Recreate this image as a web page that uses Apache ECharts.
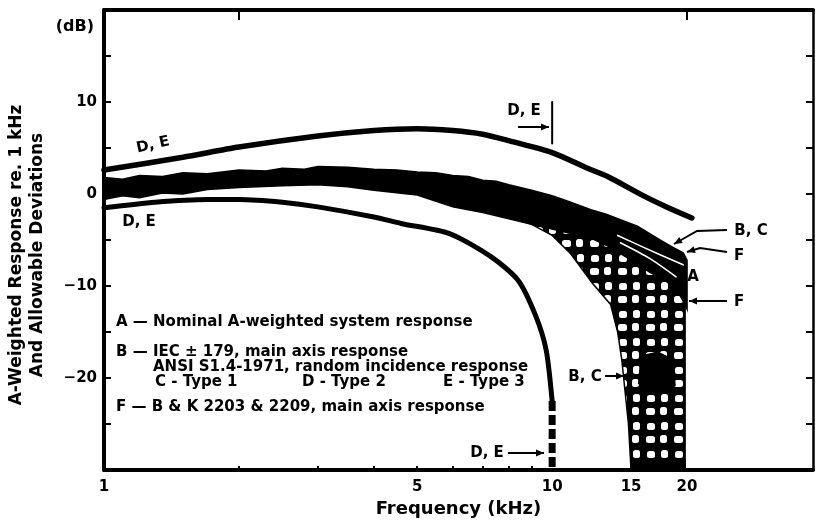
<!DOCTYPE html>
<html><head><meta charset="utf-8">
<script src="https://cdn.jsdelivr.net/npm/echarts@6/dist/echarts.min.js"></script>
<style>html,body{margin:0;padding:0;background:#fff}#c{width:819px;height:524px}</style>
</head><body><div id="c"></div>
<script>
// ---- data (frequency kHz, level dB) ----
const xTickLabels = [1, 5, 10, 15, 20];
const xMinorTicks = [2, 3, 4, 5, 6, 7, 8, 9];
const xTopTicks = [2, 20];
const yTickLabels = [10, 0, -10, -20];
const yTicks = [15, 10, 5, 0, -5, -10, -15, -20, -25];

const upperDE = [[1,2.6],[1.5,4.0],[2,5.1],[3,6.3],[4,6.9],[5,7.1],[6,6.9],[7,6.5],[8,5.8],[10,4.5],[12,2.8],[13.3,1.9],[16,-0.2],[18,-1.4],[20.5,-2.6]];
const lowerDE = [[1,-1.5],[1.3,-0.9],[1.7,-0.6],[2,-0.6],[2.5,-0.9],[3,-1.4],[4,-2.5],[4.6,-3.2],[5.9,-4.3],[7.3,-6.8],[8.4,-9.4],[9.2,-13.3],[9.7,-17],[10,-22.5]];
const lowerDEdash = [[10,-22.5],[10,-30]];
const markerDE = [[10,10],[10,5.5]];

const bandTop = [[1,1.8],[1.1,1.6],[1.2,2.0],[1.35,1.9],[1.5,2.3],[1.7,2.2],[2,2.6],[2.3,2.5],[2.5,2.8],[2.8,2.7],[3,3.0],[3.5,2.9],[4,2.7],[4.5,2.6],[5,2.4],[5.5,2.3],[6,2.0],[6.5,1.9],[7,1.5],[7.5,1.4],[8,1.0],[9,0.4],[10,-0.2],[11,-0.9],[12.2,-1.7],[13.2,-2.2],[14.2,-2.8],[15.5,-3.5],[17.4,-5.0],[18.6,-5.8],[19.6,-6.4],[20,-7.2]];
const bandBottom = [[1,-0.6],[1.1,-0.2],[1.2,-0.4],[1.35,0.1],[1.5,0.0],[1.7,0.5],[2,0.7],[2.5,0.9],[3,1.0],[3.5,0.8],[4,0.4],[5,-0.1],[6,-1.4],[7,-2.0],[8,-2.7],[9,-3.3],[10,-3.8],[11,-4.3],[12.2,-4.8],[13.5,-5.8],[15,-7.2],[16.5,-8.5],[18,-9.5],[19,-10.5],[19.8,-12],[20,-12.5]];
const checkerOutline = [[7.5,-2.0],[12,-3.5],[16,-6],[19.8,-8],[19.8,-30],[15.0,-30],[14.8,-25],[14.3,-18],[14.0,-15],[13.5,-12],[12.3,-9.7],[11,-6.5],[10,-4.5],[9,-3.3],[7.5,-2.0]];
const checkerBlob = [[15.8,-17.6],[17.2,-17.2],[18.6,-18.0],[18.8,-20.8],[17.0,-21.3],[15.6,-20.6]];
const checkerFoot = [[15.0,-28.9],[19.8,-28.9],[19.8,-30],[15.0,-30]];
const curveA = [[14.0,-4.5],[16,-5.8],[19.6,-7.7]];
const curveF = [[14.2,-5.3],[16.5,-7.0],[18.9,-9.0]];

// ---- styling ----
const FONT = '"DejaVu Sans", Verdana, sans-serif';
const chart = echarts.init(document.getElementById('c'), null, {renderer:'canvas'});

function makePattern(){
  const c = document.createElement('canvas'); c.width = 28; c.height = 28;
  const g = c.getContext('2d');
  g.fillStyle = '#000'; g.fillRect(0,0,28,28);
  g.fillStyle = '#fff';
  const blobs = [[3,3,8,7],[17,2,7,8],[2,16,9,7],[16,15,7,8]];
  blobs.forEach(b=>{ g.beginPath(); if (g.roundRect) g.roundRect(b[0],b[1],b[2],b[3],2.5); else g.rect(b[0],b[1],b[2],b[3]); g.fill(); });
  return c;
}
const pattern = {image: makePattern(), repeat: 'repeat'};

function polySeries(points, fill, z){
  return {type:'custom', coordinateSystem:'cartesian2d', xAxisIndex:0, yAxisIndex:0, z, silent:true, clip:true,
    data:[[1,0]],
    renderItem:(params, api)=>({type:'polygon', shape:{points: points.map(p=>api.coord(p)), smooth:0},
      style:{fill: fill, stroke:'#000', lineWidth:1.5}})};
}
function lineSeries(data, width, color, z, extra){
  return Object.assign({type:'line', data, xAxisIndex:0, yAxisIndex:0, symbol:'none', silent:true, z,
    smooth:0.25, lineStyle:{color, width, cap:'round'}}, extra||{});
}

const axisFont = {fontFamily: FONT, fontWeight:'bold', color:'#000'};

function text(t, x, y, size, align, rotation){
  return {type:'text', x, y, z:100, silent:true, rotation: rotation||0,
    style:{text:t, font:`bold ${size}px ${FONT}`, fill:'#000', align: align||'left', verticalAlign:'middle'}};
}
function arrow(pts){
  const n = pts.length, a = pts[n-2], b = pts[n-1];
  const ang = Math.atan2(b[1]-a[1], b[0]-a[0]);
  const L = 8, W = 3.5;
  const bx = b[0]-L*Math.cos(ang), by = b[1]-L*Math.sin(ang);
  const head = [b, [bx - W*Math.sin(ang), by + W*Math.cos(ang)], [bx + W*Math.sin(ang), by - W*Math.cos(ang)]];
  return [
    {type:'polyline', z:100, silent:true, shape:{points:pts}, style:{stroke:'#000', lineWidth:2, fill:null}},
    {type:'polygon', z:100, silent:true, shape:{points:head}, style:{fill:'#000'}}
  ];
}

const graphics = [
  text('(dB)', 94, 27, 16, 'right'),
  text('A-Weighted Response re. 1 kHz', 17, 255, 17, 'center', Math.PI/2),
  text('And Allowable Deviations', 38, 255, 17, 'center', Math.PI/2),
  text('A — Nominal A-weighted system response', 116, 322, 15),
  text('B — IEC ± 179, main axis response', 116, 352, 15),
  text('ANSI S1.4-1971, random incidence response', 153, 367, 15),
  text('C - Type 1', 155, 382, 15),
  text('D - Type 2', 302, 382, 15),
  text('E - Type 3', 443, 382, 15),
  text('F — B & K 2203 & 2209, main axis response', 116, 407, 15),
  text('D, E', 153, 145, 15, 'center', 0.22),
  text('D, E', 139, 222, 15, 'center'),
  text('D, E', 524, 111, 15, 'center'),
  text('D, E', 487, 453, 15, 'center'),
  text('B, C', 585, 377, 15, 'center'),
  text('B, C', 751, 231, 15, 'center'),
  text('F', 739, 256, 15, 'center'),
  text('A', 693, 277, 15, 'center'),
  text('F', 739, 302, 15, 'center'),
  ...arrow([[518,127],[549,127]]),
  ...arrow([[508,453],[544,453]]),
  ...arrow([[605,376],[624,376]]),
  ...arrow([[727,230],[697,231],[674,244]]),
  ...arrow([[727,252],[700,248],[687,252]]),
  ...arrow([[727,301],[689,301]])
];

const option = {
  animation:false,
  backgroundColor:'#fff',
  grid:{left:104, right:6, top:10, bottom:54},
  xAxis:[{
    type:'log', logBase:10, min:1, max:38.2, position:'bottom',
    axisLine:{onZero:false, lineStyle:{color:'#000', width:4}},
    axisTick:{show:true, inside:true, length:4, customValues:xMinorTicks, lineStyle:{color:'#000', width:2}},
    minorTick:{show:false}, splitLine:{show:false},
    axisLabel:{customValues:xTickLabels, formatter:v=>String(Math.round(v)), fontSize:15, margin:10, ...axisFont},
    name:'Frequency (kHz)', nameLocation:'middle', nameGap:27,
    nameTextStyle:{fontSize:18, ...axisFont}
  },{
    type:'log', logBase:10, min:1, max:38.2, position:'top',
    axisLine:{onZero:false, lineStyle:{color:'#000', width:4}},
    axisTick:{show:true, inside:true, length:10, customValues:xTopTicks, lineStyle:{color:'#000', width:2}},
    axisLabel:{show:false}, splitLine:{show:false}, minorTick:{show:false}
  }],
  yAxis:[{
    type:'value', min:-30, max:20, position:'left',
    axisLine:{show:true, onZero:false, lineStyle:{color:'#000', width:4}},
    axisTick:{show:true, inside:true, length:7, customValues:yTicks, lineStyle:{color:'#000', width:2}},
    axisLabel:{customValues:yTickLabels, formatter:v=>String(v).replace('-', '−'), fontSize:15, margin:7, ...axisFont},
    splitLine:{show:false}
  },{
    type:'value', min:-30, max:20, position:'right',
    axisLine:{show:true, onZero:false, lineStyle:{color:'#000', width:2.5}},
    axisTick:{show:true, inside:true, length:7, customValues:yTicks, lineStyle:{color:'#000', width:2}},
    axisLabel:{show:false}, splitLine:{show:false}
  }],
  series:[
    polySeries(checkerOutline, pattern, 2),
    polySeries(checkerBlob, '#000', 3),
    polySeries(checkerFoot, '#000', 3),
    polySeries(bandTop.concat(bandBottom.slice().reverse()), '#000', 3),
    lineSeries(curveA, 1.6, '#fff', 4),
    lineSeries(curveF, 1.6, '#fff', 4),
    lineSeries(upperDE, 5.5, '#000', 5),
    lineSeries(lowerDE, 5, '#000', 5),
    lineSeries(lowerDEdash, 7, '#000', 5, {smooth:false, lineStyle:{color:'#000', width:7, type:[10,4], cap:'butt'}}),
    lineSeries(markerDE, 2, '#000', 5, {smooth:false})
  ],
  graphic: graphics
};
chart.setOption(option);
</script></body></html>
